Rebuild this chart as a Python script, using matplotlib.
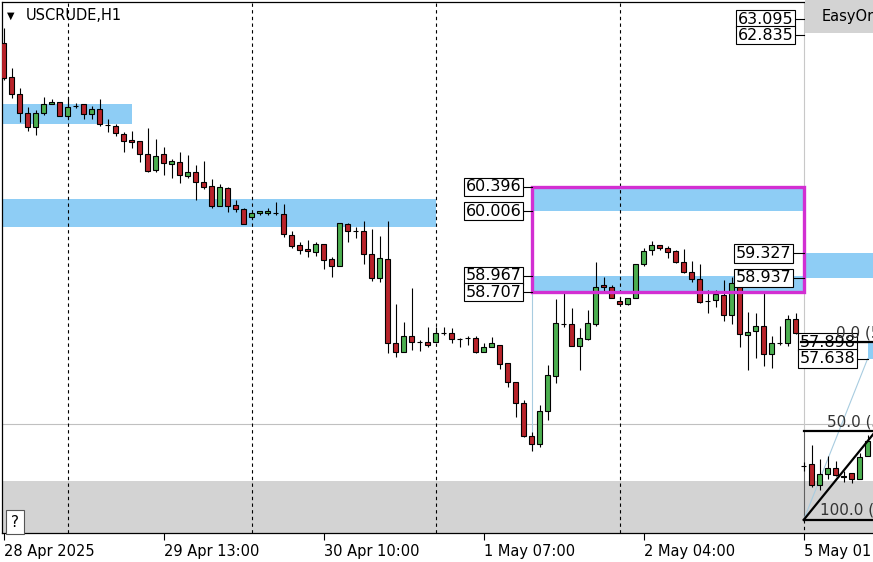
import matplotlib
matplotlib.use("Agg")
import matplotlib.pyplot as plt
from matplotlib.patches import Rectangle
import numpy as np

# USCRUDE H1 bars, 28 Apr 16:00 .. 5 May 09:00
opens = [62.711, 62.164, 61.891, 61.585, 61.360, 61.585, 61.730, 61.762, 61.537, 61.698,
         61.730, 61.569, 61.650, 61.392, 61.376, 61.248, 61.151, 61.135, 60.926, 60.669,
         60.926, 60.765, 60.798, 60.572, 60.637, 60.476, 60.412, 60.090, 60.380, 60.106,
         60.042, 59.913, 59.978, 59.978, 59.978, 59.962, 59.624, 59.463, 59.399, 59.351,
         59.479, 59.238, 59.126, 59.801, 59.688, 59.688, 59.318, 58.933, 59.238, 57.888,
         57.743, 58.000, 57.904, 57.904, 57.904, 58.048, 58.048, 57.952, 57.968, 57.968,
         57.743, 57.823, 57.855, 57.566, 57.261, 56.923, 56.392, 56.264, 56.794, 57.357,
         58.193, 58.193, 57.839, 57.952, 58.193, 58.820, 58.788, 58.563, 58.515, 58.611,
         59.158, 59.383, 59.463, 59.415, 59.367, 59.190, 59.029, 58.917, 58.563, 58.579,
         58.659, 58.338, 58.852, 58.016, 58.081, 58.161, 57.711, 57.888, 57.888, 58.273,
         55.910, 55.942, 55.605, 55.782, 55.878, 55.733, 55.798, 55.701, 56.071]
highs = [62.952, 62.309, 61.987, 61.682, 61.634, 61.843, 61.810, 61.762, 61.826, 61.746,
         61.730, 61.698, 61.810, 61.489, 61.408, 61.280, 61.296, 61.135, 61.344, 61.167,
         61.039, 60.846, 60.958, 60.910, 60.749, 60.814, 60.524, 60.444, 60.396, 60.187,
         60.058, 59.994, 60.010, 60.058, 60.154, 60.122, 59.688, 59.511, 59.544, 59.511,
         59.479, 59.270, 59.817, 59.817, 59.753, 59.849, 59.720, 59.608, 59.849, 58.515,
         58.225, 58.772, 57.936, 58.145, 58.145, 58.145, 58.129, 57.968, 58.000, 58.000,
         57.888, 57.984, 57.855, 57.566, 57.261, 56.971, 56.457, 56.891, 57.534, 58.595,
         58.691, 58.450, 58.129, 58.418, 59.190, 58.949, 58.820, 58.627, 58.515, 59.158,
         59.415, 59.527, 59.463, 59.447, 59.383, 59.399, 59.206, 59.158, 58.740, 58.740,
         58.900, 58.949, 58.884, 58.386, 58.370, 58.691, 58.000, 58.161, 58.338, 58.370,
         55.974, 56.248, 56.023, 56.071, 55.991, 55.830, 55.798, 56.119, 56.409]
lows = [62.116, 61.826, 61.441, 61.296, 61.232, 61.553, 61.730, 61.537, 61.505, 61.666,
        61.489, 61.489, 61.376, 61.280, 61.216, 60.958, 61.023, 60.798, 60.637, 60.637,
        60.589, 60.540, 60.460, 60.540, 60.187, 60.363, 60.058, 60.090, 59.994, 59.994,
        59.801, 59.881, 59.945, 59.945, 59.945, 59.592, 59.415, 59.318, 59.270, 59.286,
        59.077, 58.949, 59.126, 59.511, 59.576, 59.158, 58.884, 58.868, 57.727, 57.663,
        57.743, 57.775, 57.759, 57.823, 57.904, 58.016, 57.888, 57.823, 57.855, 57.727,
        57.743, 57.823, 57.470, 57.180, 56.698, 56.376, 56.151, 56.216, 56.650, 57.245,
        58.145, 57.839, 57.454, 57.936, 58.161, 58.724, 58.611, 58.515, 58.500, 58.611,
        59.126, 59.302, 59.383, 59.254, 59.174, 59.013, 58.868, 58.531, 58.370, 58.466,
        58.241, 58.193, 57.823, 57.454, 57.646, 57.518, 57.486, 57.855, 57.839, 58.032,
        55.830, 55.573, 55.524, 55.701, 55.749, 55.653, 55.637, 55.701, 56.071]
closes = [62.148, 61.891, 61.585, 61.360, 61.585, 61.730, 61.762, 61.537, 61.682, 61.690,
          61.569, 61.650, 61.408, 61.385, 61.264, 61.135, 61.119, 60.926, 60.653, 60.894,
          60.781, 60.814, 60.589, 60.637, 60.476, 60.396, 60.090, 60.396, 60.090, 60.042,
          59.801, 59.978, 60.010, 60.010, 59.975, 59.640, 59.447, 59.383, 59.367, 59.479,
          59.222, 59.126, 59.817, 59.688, 59.685, 59.318, 58.933, 59.254, 57.888, 57.743,
          58.000, 57.904, 57.900, 57.855, 58.048, 58.045, 57.952, 57.950, 57.965, 57.743,
          57.823, 57.888, 57.550, 57.261, 56.923, 56.392, 56.264, 56.794, 57.373, 58.209,
          58.190, 57.839, 57.968, 58.209, 58.788, 58.788, 58.611, 58.515, 58.611, 59.158,
          59.367, 59.463, 59.415, 59.351, 59.190, 59.029, 58.917, 58.547, 58.560, 58.675,
          58.338, 58.852, 58.032, 58.064, 58.161, 57.711, 57.888, 57.885, 58.273, 58.048,
          55.905, 55.605, 55.782, 55.878, 55.765, 55.749, 55.701, 56.055, 56.312]

# time axis (bar index)
tick_bars = [0, 20, 40, 60, 80, 100]
tick_labels = ["28 Apr 2025", "29 Apr 13:00", "30 Apr 10:00", "1 May 07:00", "2 May 04:00", "5 May 01:00"]
separator_bars = [8, 31, 54, 77, 100]

# supply / demand zones
zone_starts = [-1, -1, 66, 66, 100, 108]
zone_ends = [16, 54, 100, 100, 115, 115]
zone_tops = [61.730, 60.203, 60.396, 58.967, 59.327, 57.898]
zone_bottoms = [61.408, 59.753, 60.006, 58.707, 58.937, 57.638]

# magenta box
box_start, box_end = 66, 100
box_top, box_bottom = 60.396, 58.707

# price tags
tag_values = [60.396, 60.006, 58.967, 58.707, 59.327, 58.937, 63.095, 62.835, 57.898, 57.638]
tag_bars = [64.71, 64.71, 64.71, 64.71, 98.46, 98.46, 98.71, 98.71, 106.46, 106.46]
tag_anchor = [66, 66, 66, 66, 100, 100, 100, 100, 108, 108]

# fibonacci
fib_names = ["0.0 (57.898)", "50.0 (56.472)", "100.0 (55.045)"]
fib_prices = [57.898, 56.472, 55.045]
fib_text_bars = [104.0, 102.9, 102.0]

hline_price = 56.586
bottom_box_top = 55.663

RED = "#B8232A"
GREEN = "#4CAF50"
ZONE = "#8ECDF5"


def draw_candles(ax):
    """Draw wicks and bodies of the H1 bars."""
    x = np.arange(len(opens))
    o = np.array(opens)
    c = np.array(closes)
    ax.vlines(x, lows, highs, color="black", linewidth=0.8, zorder=3)
    colors = [GREEN if cc > oo else RED for oo, cc in zip(o, c)]
    bottoms = np.minimum(o, c)
    heights = np.abs(c - o)
    ax.bar(x, heights, bottom=bottoms, width=0.66, color=colors,
           edgecolor="black", linewidth=0.8, zorder=4)


def draw_objects(ax):
    """Zones, separators, magenta box, fibonacci and price tags."""
    ax.add_patch(Rectangle((-5, 50), 130, bottom_box_top - 50, color="#D3D3D3", lw=0, zorder=0.5))
    for s, e, t, b in zip(zone_starts, zone_ends, zone_tops, zone_bottoms):
        ax.add_patch(Rectangle((s, b), e - s, t - b, color=ZONE, lw=0, zorder=0.6))

    ax.axhline(hline_price, color="#C0C0C0", linewidth=0.8, zorder=1)
    for b in separator_bars[:-1]:
        ax.axvline(b, color="black", linewidth=0.8, linestyle=(0, (3, 3)), zorder=1)
    ax.vlines(separator_bars[-1], 50, fib_prices[2], color="black", linewidth=0.8,
              linestyle=(0, (3, 3)), zorder=1)
    ax.vlines(separator_bars[-1], fib_prices[1], 70, color="#C8C8C8", linewidth=0.8, zorder=1)
    ax.vlines(separator_bars[-1], fib_prices[2], fib_prices[1], color="#606060", linewidth=0.8, zorder=1)

    # thin light blue helper lines
    ax.plot([box_start, box_start], [box_bottom, 56.16], color="#A8CCE0", linewidth=0.8, zorder=1.5)
    ax.plot([100, 108], [fib_prices[2], zone_bottoms[5]], color="#A8CCE0", linewidth=0.8, zorder=1.5)

    ax.add_patch(Rectangle((box_start, box_bottom), box_end - box_start, box_top - box_bottom,
                           fill=False, edgecolor="#D22FD2", linewidth=2.4, zorder=6))

    for v, xb, xa in zip(tag_values, tag_bars, tag_anchor):
        ax.plot([xb + 0.2, xa], [v, v], color="black", linewidth=0.8, zorder=6)
        ax.text(xb, v, "%.3f" % v, ha="right", va="center", fontsize=11.5, zorder=7,
                bbox=dict(boxstyle="square,pad=0.1", fc="white", ec="black", lw=0.8))

    # fibonacci levels
    for name, p, xt in zip(fib_names, fib_prices, fib_text_bars):
        start = 99.6 if p == fib_prices[0] else 100
        ax.plot([start, 115], [p, p], color="black", linewidth=1.6, zorder=8)
        ax.text(xt, p + 0.03, name, ha="left", va="bottom", fontsize=11, color="#333333",
                clip_on=True, zorder=8)
    ax.plot([100, 118], [fib_prices[2], fib_prices[0]], color="black", linewidth=1.6, zorder=8)


def main():
    fig = plt.figure(figsize=(8.73, 5.62), dpi=100)
    ax = fig.add_axes([2 / 873, 29 / 562, 871 / 873, 531 / 562])

    draw_objects(ax)
    draw_candles(ax)

    ax.set_xlim(-0.2125, 108.66)
    ax.set_ylim(54.833, 63.370)
    ax.set_yticks([])
    ax.set_xticks(tick_bars)
    ax.set_xticklabels(tick_labels)
    for lbl in ax.get_xticklabels():
        lbl.set_ha("left")
    ax.tick_params(axis="x", direction="out", length=5, width=0.8, pad=3, labelsize=10.5)
    ax.spines["right"].set_visible(False)
    for side in ("top", "left", "bottom"):
        ax.spines[side].set_linewidth(0.9)

    # header and small widgets
    ax.text(0.0103, 0.9745, "\u25bc", transform=ax.transAxes, ha="center", va="center", fontsize=7)
    ax.text(0.0276, 0.9755, "USCRUDE,H1", transform=ax.transAxes, ha="left", va="center", fontsize=10.5)
    ax.add_patch(Rectangle((0.922, 0.9416), 0.1, 0.07, transform=ax.transAxes, color="#D3D3D3",
                           lw=0, zorder=9, clip_on=False))
    ax.text(0.9415, 0.972, "EasyOrder", transform=ax.transAxes, ha="left", va="center",
            fontsize=10.5, zorder=10)
    ax.text(0.0149, 0.0207, "?", transform=ax.transAxes, ha="center", va="center", fontsize=11,
            zorder=10, bbox=dict(boxstyle="square,pad=0.3", fc="white", ec="#555555", lw=0.8))

    fig.savefig("out.png", dpi=100)


if __name__ == "__main__":
    main()
